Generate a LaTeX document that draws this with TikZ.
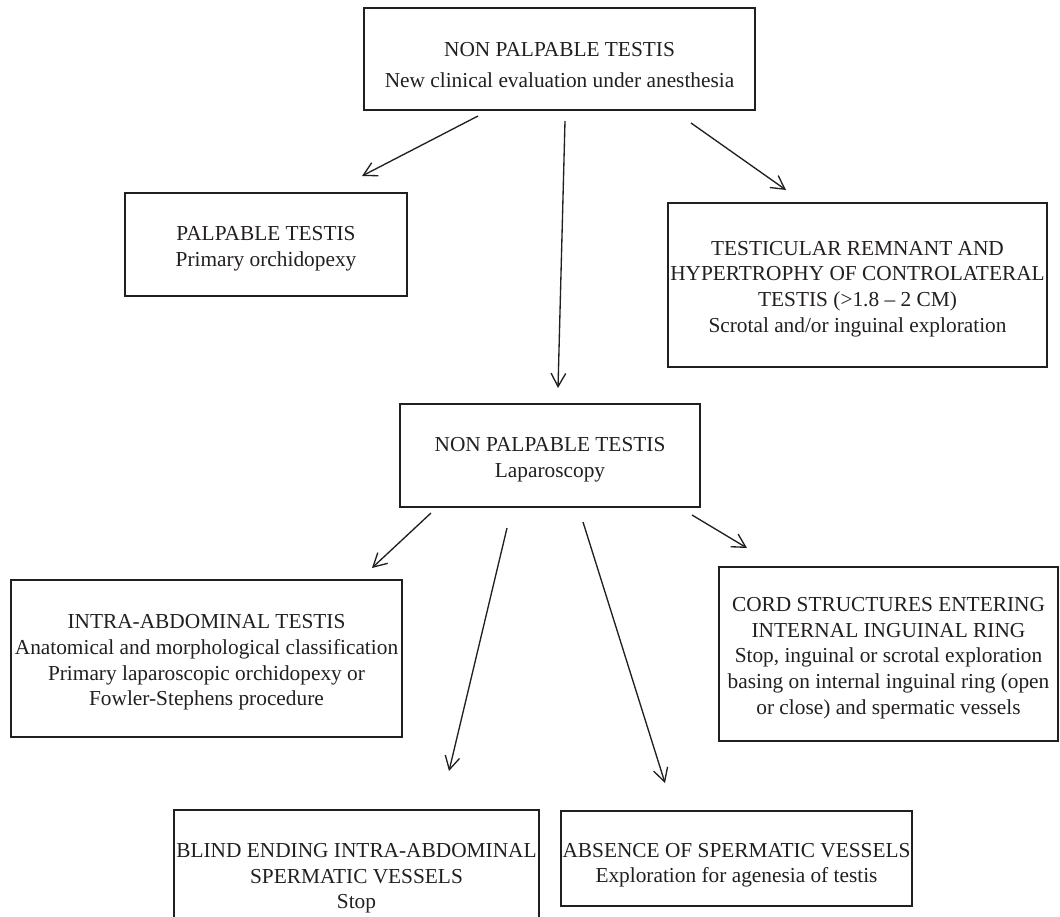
\documentclass[tikz,border=0pt]{standalone}
\usepackage{fontspec}
\setmainfont{Liberation Serif}
\usetikzlibrary{arrows.meta,fit}
\definecolor{ink}{RGB}{35,31,32}
\begin{document}
\begin{tikzpicture}[x=0.75pt,y=-0.75pt,
  box/.style={draw=ink, line width=0.9pt, inner sep=0pt},
  lbl/.style={align=center, text=ink, font=\fontsize{16}{19.3}\selectfont, inner sep=0pt},
  arr/.style={draw=ink, line width=1pt, -{Straight Barb[length=10pt,width=11pt,line width=1pt]}}]
\useasboundingbox (0,0) rectangle (1060,917);
\clip (0,0) rectangle (1060,917);
\fill[white] (0,0) rectangle (1060,917);

% boxes
\node[box, fit={(364,8) (755,110)}] (top) {};
\node[box, fit={(125,193) (407,296)}] (palp) {};
\node[box, fit={(668,203) (1047,367)}] (rem) {};
\node[box, fit={(400,404) (700,507)}] (lap) {};
\node[box, fit={(11,580) (402,737)}] (intra) {};
\node[box, fit={(719,567) (1058,741)}] (cord) {};
\node[box, fit={(174,810) (539,960)}] (blind) {};
\node[box, fit={(561,811) (912,906)}] (abs) {};

% texts
\node[lbl, font=\fontsize{16}{23}\selectfont, yshift=-4.5pt] (topT) at (top.center) {NON PALPABLE TESTIS\\New clinical evaluation under anesthesia};
\node[lbl, yshift=-3pt] (palpT) at (palp.center) {PALPABLE TESTIS\\Primary orchidopexy};
\node[lbl, yshift=-3pt] (remT) at (rem.center) {TESTICULAR REMNANT AND\\HYPERTROPHY OF CONTROLATERAL\\TESTIS (>1.8 – 2 CM)\\Scrotal and/or inguinal exploration};
\node[lbl, yshift=-3pt] (lapT) at (lap.center) {NON PALPABLE TESTIS\\Laparoscopy};
\node[lbl, yshift=-3pt] (intraT) at (intra.center) {INTRA-ABDOMINAL TESTIS\\Anatomical and morphological classification\\Primary laparoscopic orchidopexy or\\Fowler-Stephens procedure};
\node[lbl, yshift=-3pt] (cordT) at (cord.center) {CORD STRUCTURES ENTERING\\INTERNAL INGUINAL RING\\Stop, inguinal or scrotal exploration\\basing on internal inguinal ring (open\\or close) and spermatic vessels};
\node[lbl, anchor=north] (blindT) at (356.5,843) {BLIND ENDING INTRA-ABDOMINAL\\SPERMATIC VESSELS\\Stop};
\node[lbl, yshift=-5pt] (absT) at (abs.center) {ABSENCE OF SPERMATIC VESSELS\\Exploration for agenesia of testis};

% connectors
\coordinate (a1s) at (478,116); \coordinate (a1e) at (362,176);
\coordinate (a2s) at (565,121); \coordinate (a2e) at (558,388);
\coordinate (a3s) at (691,123); \coordinate (a3e) at (786,190);
\coordinate (a4s) at (431,513); \coordinate (a4e) at (372,568);
\coordinate (a5s) at (507,528); \coordinate (a5e) at (449,771);
\coordinate (a6s) at (583,522); \coordinate (a6e) at (665,783);
\coordinate (a7s) at (692,515); \coordinate (a7e) at (747,548);
\draw[arr] (a1s) -- (a1e);
\draw[arr] (a2s) -- (a2e);
\draw[arr] (a3s) -- (a3e);
\draw[arr] (a4s) -- (a4e);
\draw[arr] (a5s) -- (a5e);
\draw[arr] (a6s) -- (a6e);
\draw[arr] (a7s) -- (a7e);
\end{tikzpicture}
\end{document}
